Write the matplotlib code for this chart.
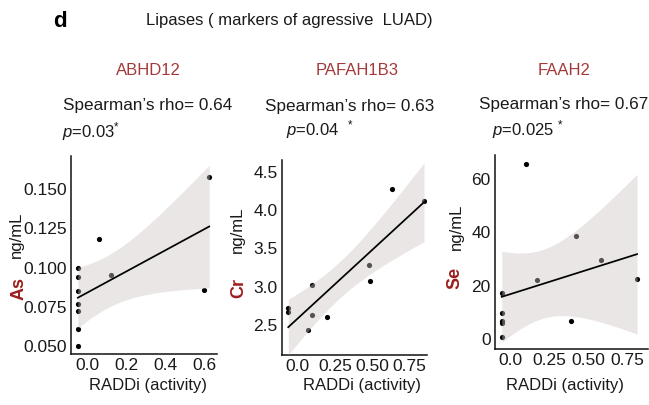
import numpy as np
import matplotlib
matplotlib.use("Agg")
import matplotlib.pyplot as plt

plt.rcParams['font.family'] = ['Liberation Sans', 'DejaVu Sans']
plt.rcParams['mathtext.fontset'] = 'custom'
plt.rcParams['mathtext.rm'] = 'Liberation Sans'
plt.rcParams['mathtext.it'] = 'Liberation Sans:italic'

# ---------------- data ----------------
genes = ["ABHD12", "PAFAH1B3", "FAAH2"]
elements = ["As", "Cr", "Se"]
rho_texts = ["Spearman\u2019s rho= 0.64", "Spearman\u2019s rho= 0.63", "Spearman\u2019s rho= 0.67"]
p_texts = [r"$p$=0.03$^{*}$", r"$p$=0.04  $^{*}$", r"$p$=0.025 $^{*}$"]

abhd_x = [-0.05, -0.05, -0.05, -0.05, -0.05, -0.05, -0.05, 0.06, 0.12, 0.60, 0.625]
abhd_y = [0.100, 0.094, 0.085, 0.077, 0.0725, 0.061, 0.050, 0.118, 0.0955, 0.0857, 0.158]

pafah_x = [-0.063, -0.063, 0.071, 0.094, 0.098, 0.199, 0.48, 0.487, 0.633, 0.848]
pafah_y = [2.72, 2.67, 2.44, 3.02, 2.63, 2.60, 3.28, 3.08, 4.27, 4.12]

faah_x = [-0.053, -0.053, -0.053, -0.053, -0.053, 0.102, 0.17, 0.387, 0.42, 0.58, 0.81]
faah_y = [17.3, 9.8, 6.6, 6.0, 0.8, 65.7, 22.0, 6.9, 38.6, 29.5, 22.5]

xticks = [[0.0, 0.2, 0.4, 0.6], [0.0, 0.25, 0.50, 0.75], [0.0, 0.25, 0.50, 0.75]]
xticklabels = [["0.0", "0.2", "0.4", "0.6"], ["0.0", "0.25", "0.50", "0.75"], ["0.0", "0.25", "0.50", "0.75"]]
yticks = [[0.050, 0.075, 0.100, 0.125, 0.150], [2.5, 3.0, 3.5, 4.0, 4.5], [0, 20, 40, 60]]
yticklabels = [["0.050", "0.075", "0.100", "0.125", "0.150"], ["2.5", "3.0", "3.5", "4.0", "4.5"], ["0", "20", "40", "60"]]

series = [(abhd_x, abhd_y), (pafah_x, pafah_y), (faah_x, faah_y)]

# ---------------- layout (pixels) ----------------
W, H = 649, 405
fig = plt.figure(figsize=(W / 100, H / 100), dpi=100)

def fx(px):
    return px / W

def fy(py):
    return 1 - py / H

axes_px = [(71, 156, 216.7, 354), (281.7, 160, 426.7, 355), (495, 155, 648, 348.5)]
xlims = [(-0.085, 0.663), (-0.107, 0.866), (-0.096, 0.88)]
ylims = [(0.0449, 0.1712), (2.109, 4.653), (-3.6, 69.1)]

t_crit = {8: 2.306, 9: 2.262, 10: 2.228}
title_red = '#a33a3a'
elem_red = '#9c1f1f'
txt = '#1a1a1a'

xlabel_centers = [148, 362, 565]
ylab_ng = [(16, 235), (237.5, 230), (456, 227)]
ylab_el = [(19, 288), (239, 288.5), (455, 277.5)]

for i, (x, y) in enumerate(series):
    l, t, r, b = axes_px[i]
    ax = fig.add_axes([fx(l), fy(b), (r - l) / W, (b - t) / H])
    x = np.asarray(x, float)
    y = np.asarray(y, float)
    ax.scatter(x, y, s=14, color='black', zorder=2, linewidths=0)
    # linear fit with 95% CI
    n = len(x)
    b1, b0 = np.polyfit(x, y, 1)
    resid = y - (b0 + b1 * x)
    s = np.sqrt(np.sum(resid ** 2) / (n - 2))
    sxx = np.sum((x - x.mean()) ** 2)
    xg = np.linspace(x.min(), x.max(), 100)
    yg = b0 + b1 * xg
    se = s * np.sqrt(1 / n + (xg - x.mean()) ** 2 / sxx)
    tc = t_crit[n - 2]
    ax.fill_between(xg, yg - tc * se, yg + tc * se, color=(0.81, 0.77, 0.77), alpha=0.42,
                    linewidth=0, zorder=3)
    ax.plot(xg, yg, color='black', lw=1.25, zorder=4)

    ax.set_xlim(*xlims[i])
    ax.set_ylim(*ylims[i])
    ax.set_xticks(xticks[i])
    ax.set_xticklabels(xticklabels[i])
    ax.set_yticks(yticks[i])
    ax.set_yticklabels(yticklabels[i])
    ax.tick_params(length=0, pad=3, labelsize=12.5, labelcolor=txt)
    for side in ['top', 'right']:
        ax.spines[side].set_visible(False)
    for side in ['left', 'bottom']:
        ax.spines[side].set_linewidth(1.1)
        ax.spines[side].set_color('#111111')
    ax.set_facecolor('none')

    ax.set_xlabel("RADDi (activity)", fontsize=12, color=txt)
    ax.xaxis.set_label_coords((xlabel_centers[i] - l) / (r - l), -(385.5 - b) / (b - t), transform=ax.transAxes)
    ax.xaxis.label.set_va('center')

    # y label pieces
    fig.text(fx(ylab_ng[i][0]), fy(ylab_ng[i][1]), "ng/mL", rotation=90, ha='center', va='center',
             fontsize=12, color=txt)
    fig.text(fx(ylab_el[i][0]), fy(ylab_el[i][1]), elements[i], rotation=90, ha='center', va='center',
             fontsize=13, fontweight='bold', color=elem_red)

# header texts
fig.text(fx(53), fy(27.3), "d", fontsize=16, fontweight='bold', color='black', va='baseline')
fig.text(fx(146), fy(25), "Lipases ( markers of agressive  LUAD)", fontsize=12, color=txt, va='baseline')

title_cx = [148.5, 357.5, 564.5]
rho_pos = [(63, 110), (265, 111.5), (479, 109.3)]
p_pos = [(62, 137), (286, 135), (492, 135.7)]
for i in range(3):
    fig.text(fx(title_cx[i]), fy(75), genes[i], fontsize=12, color=title_red, ha='center', va='baseline')
    fig.text(fx(rho_pos[i][0]), fy(rho_pos[i][1]), rho_texts[i], fontsize=12.3, color=txt, va='baseline')
    fig.text(fx(p_pos[i][0]), fy(p_pos[i][1]), p_texts[i], fontsize=12, color=txt, va='baseline')

fig.savefig("out.png", dpi=100, facecolor='white')
